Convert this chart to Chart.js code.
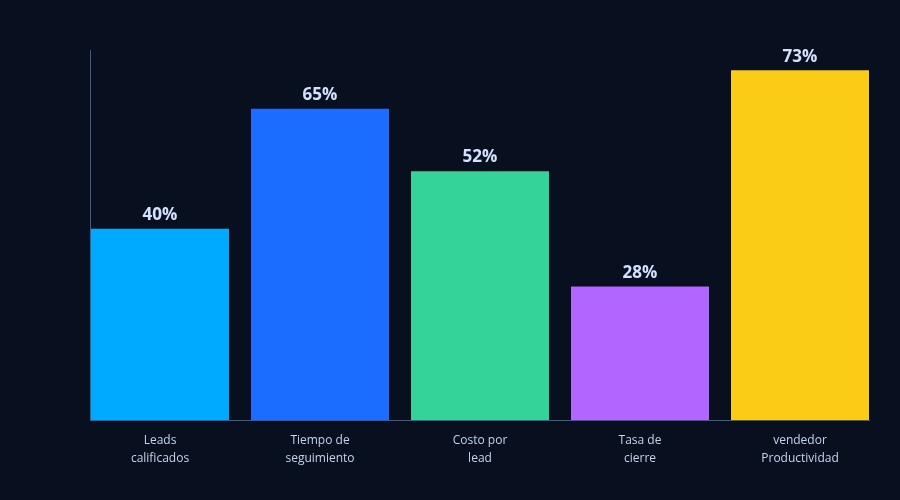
<!DOCTYPE html>
<html>
<head>
<meta charset="utf-8">
<script src="https://cdn.jsdelivr.net/npm/chart.js@4.4.1/dist/chart.umd.min.js"></script>
<style>
  html, body { margin: 0; padding: 0; background: #081020; }
  #wrap { width: 900px; height: 500px; }
</style>
</head>
<body>
<div id="wrap"><canvas id="myChart" width="900" height="500"></canvas></div>
<script>
// data
const categories = [
    ['Leads', 'calificados'],
    ['Tiempo de', 'seguimiento'],
    ['Costo por', 'lead'],
    ['Tasa de', 'cierre'],
    ['vendedor', 'Productividad']
];
const values = [40, 65, 52, 28, 73];
const barColors = ['#00aaff', '#1a6dff', '#34d399', '#b366ff', '#facc15'];

// value labels above bars
const valueLabels = {
    id: 'valueLabels',
    afterDatasetsDraw(chart) {
        const ctx = chart.ctx;
        const meta = chart.getDatasetMeta(0);
        ctx.save();
        ctx.font = 'bold 17px "Open Sans", sans-serif';
        ctx.fillStyle = '#d2e2ff';
        ctx.textAlign = 'center';
        ctx.textBaseline = 'bottom';
        meta.data.forEach(function (bar, i) {
            ctx.fillText(values[i] + '%', bar.x, bar.y - 4);
        });
        ctx.restore();
    }
};

// axis lines from first bar's left edge to last bar's right edge
const axisLines = {
    id: 'axisLines',
    afterDatasetsDraw(chart) {
        const ctx = chart.ctx;
        const meta = chart.getDatasetMeta(0);
        const first = meta.data[0];
        const last = meta.data[meta.data.length - 1];
        const left = first.x - first.width / 2;
        const right = last.x + last.width / 2;
        const area = chart.chartArea;
        ctx.save();
        ctx.strokeStyle = '#3f5c8c';
        ctx.lineWidth = 1;
        ctx.beginPath();
        ctx.moveTo(left + 0.5, area.top);
        ctx.lineTo(left + 0.5, area.bottom);
        ctx.moveTo(left, area.bottom + 0.5);
        ctx.lineTo(right, area.bottom + 0.5);
        ctx.stroke();
        ctx.restore();
    }
};

const data = {
    labels: categories,
    datasets: [{
        data: values,
        backgroundColor: barColors,
        borderColor: 'rgba(0, 0, 0, 0.3)',
        borderWidth: 1,
        barPercentage: 1,
        categoryPercentage: 0.875
    }]
};

const config = {
    type: 'bar',
    data,
    options: {
        responsive: false,
        animation: false,
        layout: {
            padding: { left: 80, right: 20, top: 50, bottom: 20 }
        },
        plugins: {
            legend: { display: false },
            tooltip: { enabled: false }
        },
        scales: {
            x: {
                grid: { display: false, drawTicks: false },
                border: { display: false },
                ticks: {
                    color: '#c3d3ec',
                    padding: 12,
                    font: { size: 12, family: '"Open Sans", sans-serif', lineHeight: 1.5 }
                }
            },
            y: {
                display: false,
                min: 0,
                max: 77
            }
        }
    },
    plugins: [axisLines, valueLabels]
};

const myChart = new Chart(document.getElementById('myChart'), config);
</script>
</body>
</html>
